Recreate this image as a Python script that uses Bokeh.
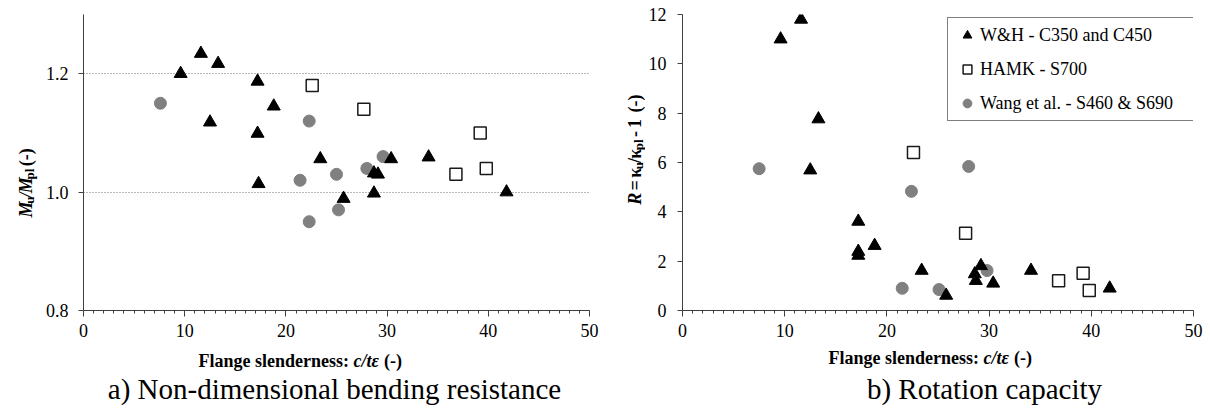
import math
from bokeh.plotting import figure
from bokeh.models import (Range1d, FixedTicker, SingleIntervalTicker, PrintfTickFormatter,
                          Legend, LegendItem)
from bokeh.layouts import row, column
from bokeh.embed import file_html
from bokeh.resources import INLINE
from bokeh.core.properties import value

# ---------------- data ----------------
# a) Non-dimensional bending resistance  Mu/Mpl
a_wh_x = [9.6, 11.6, 12.5, 13.3, 17.2, 17.2, 17.3, 18.8, 23.4, 25.7, 28.7, 28.7, 29.1, 30.4, 34.1, 41.8]
a_wh_y = [1.200, 1.234, 1.118, 1.217, 1.187, 1.099, 1.014, 1.145, 1.056, 0.989, 0.998, 1.032, 1.030, 1.056, 1.059, 1.000]
a_hamk_x = [22.6, 27.7, 36.8, 39.2, 39.8]
a_hamk_y = [1.18, 1.14, 1.03, 1.10, 1.04]
a_wang_x = [7.6, 21.4, 22.3, 22.3, 25.0, 25.2, 28.0, 29.6]
a_wang_y = [1.15, 1.02, 1.12, 0.95, 1.03, 0.97, 1.04, 1.06]

# b) Rotation capacity  R
b_wh_x = [9.6, 11.6, 12.5, 13.3, 17.2, 17.2, 17.2, 18.8, 23.4, 25.8, 28.6, 28.7, 29.2, 30.4, 34.1, 41.8]
b_wh_y = [11.0, 11.8, 5.69, 7.76, 3.61, 2.39, 2.23, 2.63, 1.62, 0.61, 1.48, 1.21, 1.81, 1.10, 1.62, 0.90]
b_hamk_x = [22.6, 27.7, 36.8, 39.2, 39.8]
b_hamk_y = [6.41, 3.13, 1.21, 1.51, 0.81]
b_wang_x = [7.5, 21.5, 22.4, 25.1, 28.0, 29.8]
b_wang_y = [5.75, 0.90, 4.83, 0.85, 5.84, 1.62]

series_names = ["W&H - C350 and C450", "HAMK - S700", "Wang et al. - S460 & S690"]
x_ticks_interval = 10
a_y_ticks = [0.8, 1.0, 1.2]
a_grid_ticks = [1.0, 1.2]
b_y_ticks = [0, 2, 4, 6, 8, 10, 12]
caption_a = "a) Non-dimensional bending resistance"
caption_b = "b) Rotation capacity"

SERIF = "Liberation Serif"
AXIS_COL = "#404040"
GREY = "#808080"
TOP_H = 344
PAGE_W, PAGE_H = 1210, 419

# approximate Times metrics (em) for placing rich-text pieces one after another
W_BOLD = {' ': .25, '(': .333, ')': .333, '-': .333, '/': .278, ':': .333, '=': .570, '1': .5,
          'F': .611, 'a': .5, 'c': .444, 'd': .556, 'e': .444, 'g': .5, 'l': .278, 'n': .556,
          'p': .556, 'r': .444, 's': .389, 't': .333, 'u': .556, 'κ': .55, 'ε': .45}
W_BI = {' ': .25, 'M': .889, 'R': .667, 'c': .444, '/': .278, 't': .278, 'ε': .45}


def tw(s, size, style):
    table = W_BI if "italic" in style else W_BOLD
    return sum(table.get(ch, .5) for ch in s) * size


def text_fig(x0, x1, y0, y1):
    """Blank figure whose data coordinates equal page pixels (y downwards)."""
    f = figure(width=x1 - x0, height=y1 - y0, x_range=Range1d(x0, x1), y_range=Range1d(y1, y0),
               x_axis_type=None, y_axis_type=None, output_backend="svg", toolbar_location=None,
               min_border=0, min_border_left=0, min_border_right=0, min_border_top=0,
               min_border_bottom=0)
    f.outline_line_color = None
    f.background_fill_color = "white"
    f.border_fill_color = "white"
    f.grid.visible = False
    return f


def put(f, x, y, s, size, style, angle=0.0, align="left"):
    f.text(x=[x], y=[y], text=[s], angle=angle, text_font=value(SERIF),
           text_font_size=f"{size}px", text_font_style=style, text_color="black",
           text_align=align, text_baseline="alphabetic")


def rich(f, pieces, x0, y0, vertical=False):
    pos = 0.0
    for s, size, style, shift in pieces:
        core = s.strip(" ")
        lead = len(s) - len(s.lstrip(" "))
        trail = len(s) - len(s.rstrip(" "))
        pos += tw(" " * lead, size, style)
        if vertical:
            put(f, x0 + shift, y0 - pos, core, size, style, angle=math.pi / 2)
        else:
            put(f, x0 + pos, y0 + shift, core, size, style)
        pos += tw(core, size, style) + tw(" " * trail, size, style)


def make_fig(width, bl, br, bt, bb, yr, yticks, standoff_y):
    p = figure(width=width, height=TOP_H, x_range=Range1d(0, 50), y_range=Range1d(*yr),
               output_backend="svg", toolbar_location=None,
               min_border_left=bl, min_border_right=br, min_border_top=bt, min_border_bottom=bb)
    p.outline_line_color = None
    p.background_fill_color = "white"
    p.border_fill_color = "white"
    p.xgrid.visible = False
    p.ygrid.visible = False
    for ax in (p.xaxis[0], p.yaxis[0]):
        ax.axis_line_color = AXIS_COL
        ax.axis_line_width = 1
        ax.major_tick_line_color = AXIS_COL
        ax.minor_tick_line_color = AXIS_COL
        ax.major_tick_in = 0
        ax.minor_tick_in = 0
        ax.major_label_text_font = SERIF
        ax.major_label_text_font_size = "18px"
        ax.major_label_text_color = "black"
    p.xaxis.ticker = SingleIntervalTicker(interval=x_ticks_interval, num_minor_ticks=10)
    p.xaxis.major_tick_out = 6
    p.xaxis.minor_tick_out = 3
    p.xaxis.major_label_standoff = 7
    p.yaxis.ticker = FixedTicker(ticks=yticks, minor_ticks=[])
    p.yaxis.major_tick_out = 5
    p.yaxis.minor_tick_line_color = None
    p.yaxis.major_label_standoff = standoff_y
    return p


def add_series(p, wh_x, wh_y, hk_x, hk_y, wg_x, wg_y):
    r_wg = p.scatter(wg_x, wg_y, marker="circle", size=12, fill_color=GREY, line_color=GREY)
    r_hk = p.scatter(hk_x, hk_y, marker="square", size=12, fill_color="white",
                     line_color="#1a1a1a", line_width=1.5)
    r_wh = p.scatter(wh_x, wh_y, marker="triangle", size=13, fill_color="black", line_color="black")
    return r_wh, r_hk, r_wg


# ---------------- figure a ----------------
p1 = make_fig(565, 43, 16, 14, 34, (0.8, 1.3), a_y_ticks, 10)
p1.yaxis.formatter = PrintfTickFormatter(format="%.1f")
p1.ygrid.visible = True
p1.ygrid.ticker = FixedTicker(ticks=a_grid_ticks)
p1.ygrid.grid_line_color = "#707070"
p1.ygrid.grid_line_dash = "1 2"
p1.ygrid.grid_line_width = 1
add_series(p1, a_wh_x, a_wh_y, a_hamk_x, a_hamk_y, a_wang_x, a_wang_y)

# ---------------- figure b ----------------
p2 = make_fig(565, 36, 17, 13, 34, (0, 12), b_y_ticks, 11)
r_wh, r_hk, r_wg = add_series(p2, b_wh_x, b_wh_y, b_hamk_x, b_hamk_y, b_wang_x, b_wang_y)

legend = Legend(items=[LegendItem(label=series_names[0], renderers=[r_wh]),
                       LegendItem(label=series_names[1], renderers=[r_hk]),
                       LegendItem(label=series_names[2], renderers=[r_wg])],
                location=(265, 189), padding=6, spacing=12, margin=0,
                glyph_width=26, glyph_height=22, label_standoff=0,
                label_width=214, label_height=22,
                label_text_font=SERIF, label_text_font_size="18px", label_text_color="black",
                border_line_color="black", border_line_width=1,
                background_fill_color="white", background_fill_alpha=1)
p2.add_layout(legend)

# ---------------- axis titles and captions (page-pixel text panels) ----------------
ya = text_fig(0, 40, 0, TOP_H)
rich(ya, [("M", 18, "bold italic", 0), ("u", 13, "bold", 4), ("/", 18, "bold italic", 0),
          ("M", 18, "bold italic", 0), ("pl", 13, "bold", 4), (" (-)", 18, "bold", 0)],
     25, 236, vertical=True)

yb = text_fig(605, 645, 0, TOP_H)
rich(yb, [("R", 18, "bold italic", 0), (" = ", 18, "bold", 0), ("κ", 18, "bold", 0),
          ("u", 13, "bold", 4), ("/", 18, "bold", 0), ("κ", 18, "bold", 0),
          ("pl", 13, "bold", 4), (" - ", 18, "bold", 0), ("1", 18, "bold", 0),
          ("  (-)", 18, "bold", 0)],
     634, 221, vertical=True)

bottom = text_fig(0, PAGE_W, TOP_H, PAGE_H)
xt = [("Flange slenderness: ", 18, "bold", 0), ("c/t", 18, "bold italic", 0),
      ("ε", 18, "bold italic", 0), (" (-)", 18, "bold", 0)]
rich(bottom, xt, 198, 360)
rich(bottom, xt, 828, 357)
put(bottom, 334, 388, caption_a, 29, "normal", align="center")
put(bottom, 984, 388, caption_b, 29, "normal", align="center")

layout = column(row(ya, p1, yb, p2), bottom)
open("out.html", "w").write(file_html(layout, INLINE, title="Flange slenderness"))
